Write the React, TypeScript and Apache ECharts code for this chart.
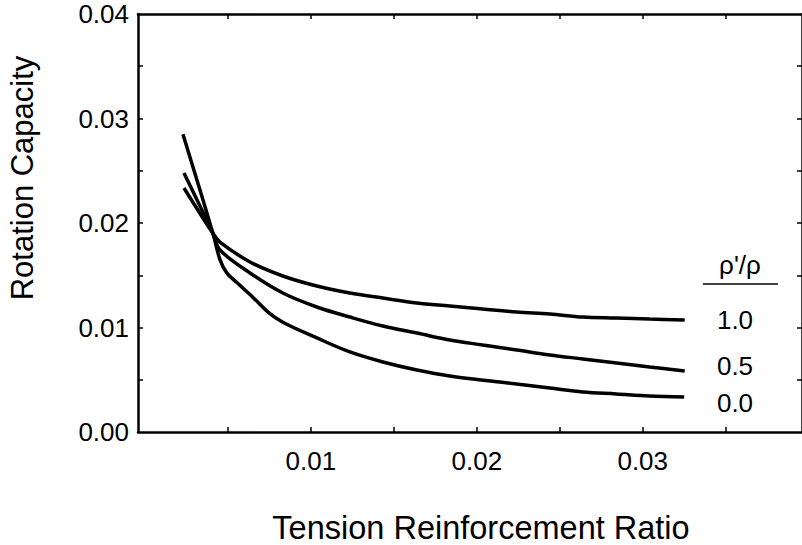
import React, { useEffect, useRef } from "react";
import * as echarts from "echarts";

// Tension reinforcement ratio (x) and rotation capacity (y) for each ρ'/ρ
const x00 = [0.00229, 0.0041, 0.00452, 0.00494, 0.00554, 0.0065, 0.0074, 0.00831, 0.01036, 0.01235, 0.01434, 0.01639, 0.01837, 0.02139, 0.0244, 0.0264, 0.0284, 0.0304, 0.0325];
const y00 = [0.0285, 0.019, 0.0165, 0.0152, 0.0143, 0.0129, 0.0115, 0.0105, 0.009, 0.00766, 0.0067, 0.00593, 0.00536, 0.00478, 0.00421, 0.00383, 0.00364, 0.00344, 0.00335];

const x05 = [0.00235, 0.0041, 0.00452, 0.00633, 0.00831, 0.01036, 0.01235, 0.01434, 0.01639, 0.01837, 0.02036, 0.02241, 0.0244, 0.02639, 0.02843, 0.03042, 0.03253];
const y05 = [0.02478, 0.019, 0.01742, 0.01522, 0.0133, 0.01196, 0.011, 0.01014, 0.00947, 0.0088, 0.00833, 0.00785, 0.00737, 0.00699, 0.0066, 0.00622, 0.00584];

const x10 = [0.00235, 0.0041, 0.00452, 0.00633, 0.00831, 0.01036, 0.01235, 0.01434, 0.01639, 0.01837, 0.02036, 0.02241, 0.0244, 0.02639, 0.02843, 0.03042, 0.03253];
const y10 = [0.02335, 0.019, 0.01818, 0.01627, 0.01493, 0.01397, 0.0133, 0.01282, 0.01234, 0.01206, 0.01177, 0.01148, 0.01129, 0.011, 0.01091, 0.01081, 0.01072];

const xTickValues = [0.005, 0.01, 0.015, 0.02, 0.025, 0.03, 0.035];
const xLabelValues = [0.01, 0.02, 0.03];
const yTickValues = [0.005, 0.01, 0.015, 0.02, 0.025, 0.03, 0.035];
const yLabelValues = [0, 0.01, 0.02, 0.03, 0.04];

const legendTitle = "ρ'/ρ";
const legendLabels = ["1.0", "0.5", "0.0"];

const xTitle = "Tension Reinforcement Ratio";
const yTitle = "Rotation Capacity";

const pairs = (xs: number[], ys: number[]) => xs.map((x, i) => [x, ys[i]]);

const FONT = "Liberation Sans, Arial, Helvetica, sans-serif";

export default function App() {
  const ref = useRef<HTMLDivElement>(null);
  useEffect(() => {
    if (!ref.current) return;
    const chart = echarts.init(ref.current, null, { renderer: "svg" });
    const lineStyle = { color: "#000", width: 3.5 };
    const axisLine = { show: true, onZero: false, lineStyle: { color: "#000", width: 2.5 } };
    const tick = (vals: number[]) => ({
      show: true,
      inside: true,
      length: 5,
      customValues: vals,
      lineStyle: { color: "#000", width: 1.5 },
    });
    const mkSeries = (name: string, data: number[][]) => ({
      name,
      type: "line",
      data,
      showSymbol: false,
      symbol: "none",
      smooth: 0.35,
      lineStyle,
      xAxisIndex: 0,
      yAxisIndex: 0,
    });
    chart.setOption({
      animation: false,
      backgroundColor: "#fff",
      grid: { left: 138, top: 14, right: -1, bottom: 113, containLabel: false },
      xAxis: [
        {
          type: "value",
          position: "bottom",
          min: -0.00042,
          max: 0.0396,
          axisLine,
          axisTick: tick(xTickValues),
          splitLine: { show: false },
          axisLabel: {
            customValues: xLabelValues,
            formatter: (v: number) => v.toFixed(2),
            color: "#000",
            fontSize: 26,
            fontFamily: FONT,
            margin: 16,
          },
        },
        {
          type: "value",
          position: "top",
          min: -0.00042,
          max: 0.0396,
          axisLine,
          axisTick: tick(xTickValues),
          splitLine: { show: false },
          axisLabel: { show: false },
        },
      ],
      yAxis: [
        {
          type: "value",
          position: "left",
          min: 0,
          max: 0.04,
          axisLine,
          axisTick: tick(yTickValues),
          splitLine: { show: false },
          axisLabel: {
            customValues: yLabelValues,
            formatter: (v: number) => v.toFixed(2),
            color: "#000",
            fontSize: 26,
            fontFamily: FONT,
            margin: 9,
          },
        },
        {
          type: "value",
          position: "right",
          min: 0,
          max: 0.04,
          axisLine,
          axisTick: tick(yTickValues),
          splitLine: { show: false },
          axisLabel: { show: false },
        },
      ],
      series: [
        mkSeries("1.0", pairs(x10, y10)),
        mkSeries("0.5", pairs(x05, y05)),
        mkSeries("0.0", pairs(x00, y00)),
      ],
      graphic: [
        {
          type: "text",
          x: 22,
          y: 178,
          rotation: Math.PI / 2,
          style: {
            text: yTitle,
            font: `31px ${FONT}`,
            fill: "#000",
            textAlign: "center",
            textVerticalAlign: "middle",
          },
        },
        {
          type: "text",
          x: 481,
          y: 528,
          style: {
            text: xTitle,
            font: `32.5px ${FONT}`,
            fill: "#000",
            textAlign: "center",
            textVerticalAlign: "middle",
          },
        },
        {
          type: "text",
          x: 740,
          y: 265,
          style: {
            text: legendTitle,
            font: `26px ${FONT}`,
            fill: "#000",
            textAlign: "center",
            textVerticalAlign: "middle",
          },
        },
        {
          type: "line",
          shape: { x1: 703, y1: 284, x2: 778, y2: 284 },
          style: { stroke: "#000", lineWidth: 1.5 },
        },
        ...legendLabels.map((t, i) => ({
          type: "text",
          x: 735,
          y: [320, 366, 403][i],
          style: {
            text: t,
            font: `26px ${FONT}`,
            fill: "#000",
            textAlign: "center",
            textVerticalAlign: "middle",
          },
        })),
      ],
    });
    return () => chart.dispose();
  }, []);
  return (
    <div
      ref={ref}
      style={{ position: "fixed", left: 0, top: 0, width: 802, height: 545, background: "#fff" }}
    />
  );
}
